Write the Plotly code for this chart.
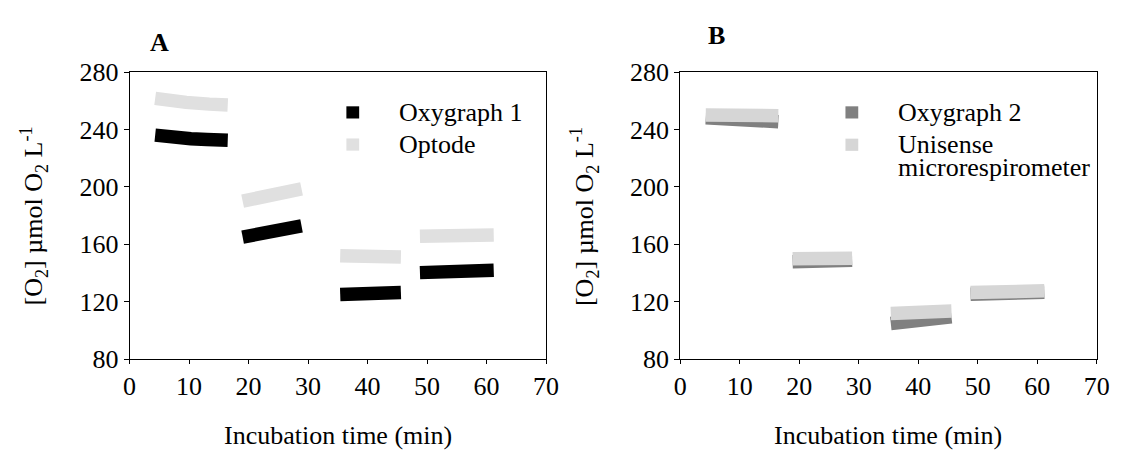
import plotly.graph_objects as go

W, H = 1131, 462
FONT = "Liberation Serif"

# ---- Panel A: Oxygraph 1 vs optode (four incubation steps) ----
a_oxy1_x = [[4.3, 6.2, 8.0, 10.3, 13.0, 16.5], [19.0, 22.7, 26.6, 28.9],
            [35.4, 40.5, 45.6], [48.8, 55.0, 61.2]]
a_oxy1_y = [[236.1, 236.0, 234.9, 233.6, 233.0, 232.5], [165.0, 168.6, 172.2, 172.9],
            [125.0, 125.8, 126.4], [140.3, 141.2, 142.0]]
a_opt_x = [[4.3, 6.2, 9.5, 13.4, 16.5], [19.0, 22.7, 26.6, 28.9],
           [35.4, 40.5, 45.6], [48.8, 55.0, 61.2]]
a_opt_y = [[261.7, 261.4, 258.9, 257.7, 257.1], [190.1, 193.9, 197.8, 198.7],
           [152.1, 151.4, 151.2], [165.6, 166.2, 166.6]]

# ---- Panel B: Oxygraph 2 vs Unisense microrespirometer ----
b_oxy2_x = [[4.3, 9.0, 16.5], [18.9, 28.9],
            [35.4, 42.0, 42.3, 45.6], [48.8, 55.0, 61.2]]
b_oxy2_y = [[248.2, 246.9, 245.4], [147.8, 148.9],
            [104.9, 106.6, 107.7, 109.5], [125.2, 126.0, 126.7]]
b_uni_x = [[4.3, 10.0, 16.5], [18.9, 28.9],
           [35.4, 40.5, 45.6], [48.8, 55.0, 61.2]]
b_uni_y = [[250.1, 250.0, 249.6], [149.9, 150.4],
           [111.9, 112.6, 113.5], [126.4, 127.0, 127.7]]

x_ticks = [0, 10, 20, 30, 40, 50, 60, 70]
y_ticks = [80, 120, 160, 200, 240, 280]

COL_OXY1 = "#000000"
COL_OPT = "#e0e0e0"
COL_OXY2 = "#808080"
COL_UNI = "#d6d6d6"
BAND = 13.5


def joined(xs, ys):
    """Concatenate segments with gaps so each step is a separate band."""
    X, Y = [], []
    for sx, sy in zip(xs, ys):
        X += list(sx) + [None]
        Y += list(sy) + [None]
    return X, Y


def px_x(p):
    return p / W


def px_y(p):
    return 1 - p / H


fig = go.Figure()
for xs, ys, col, ax in [
    (a_oxy1_x, a_oxy1_y, COL_OXY1, ("x", "y")),
    (a_opt_x, a_opt_y, COL_OPT, ("x", "y")),
    (b_oxy2_x, b_oxy2_y, COL_OXY2, ("x2", "y2")),
    (b_uni_x, b_uni_y, COL_UNI, ("x2", "y2")),
]:
    X, Y = joined(xs, ys)
    fig.add_trace(go.Scatter(x=X, y=Y, mode="lines", connectgaps=False,
                             line=dict(color=col, width=BAND),
                             xaxis=ax[0], yaxis=ax[1], showlegend=False,
                             hoverinfo="skip"))

tickfont = dict(family=FONT, size=26, color="black")
axis_common = dict(showgrid=False, zeroline=False, showline=True, linecolor="black",
                   linewidth=1, mirror=True, ticks="outside", tickcolor="black",
                   tickfont=tickfont)

y_dom = [px_y(368.3), px_y(62)]
fig.update_layout(
    width=W, height=H,
    margin=dict(l=0, r=0, t=0, b=0),
    paper_bgcolor="white", plot_bgcolor="white",
    font=dict(family=FONT, color="black"),
    xaxis=dict(domain=[px_x(125.7), px_x(549.3)], range=[0, 70], tickvals=x_ticks,
               ticklen=4, anchor="y", **axis_common),
    yaxis=dict(domain=y_dom, range=[80, 280], tickvals=y_ticks,
               ticklen=5, anchor="x", **axis_common),
    xaxis2=dict(domain=[px_x(685.7), px_x(1109.3)], range=[0, 70], tickvals=x_ticks,
                ticklen=4, anchor="y2", **axis_common),
    yaxis2=dict(domain=y_dom, range=[80, 280], tickvals=y_ticks,
                ticklen=5, anchor="x2", **axis_common),
)

ann = []
txt = dict(family=FONT, size=26, color="black")
ylab = "[O<sub>2</sub>] \u00b5mol O<sub>2</sub> L<sup>-1</sup>"
for (xt_c, y_c, letter, lx, ly) in [
    (337.5, 28.5, "A", 155.8, 30.5),
    (897.5, 588.5, "B", 722.8, 23.3),
]:
    ann.append(dict(text="Incubation time (min)", x=px_x(xt_c), y=px_y(450),
                    xref="paper", yref="paper", showarrow=False,
                    xanchor="center", yanchor="middle", font=txt))
    ann.append(dict(text=ylab, x=px_x(y_c), y=px_y(216), xref="paper", yref="paper",
                    showarrow=False, textangle=-90, xanchor="center",
                    yanchor="middle", font=txt))
    ann.append(dict(text="<b>%s</b>" % letter, x=px_x(lx), y=px_y(ly),
                    xref="paper", yref="paper", showarrow=False,
                    xanchor="center", yanchor="middle", font=txt))

# legends: coloured squares with labels
shapes = []
legend_items = [
    (352.7, 105, COL_OXY1, 397.7, ["Oxygraph 1"]),
    (352.7, 139.3, COL_OPT, 397.7, ["Optode"]),
    (860.3, 105, COL_OXY2, 905, ["Oxygraph 2"]),
    (860.3, 139.5, COL_UNI, 905, ["Unisense", "microrespirometer"]),
]
for cx, cy, col, tx, lines in legend_items:
    s = 6.5
    shapes.append(dict(type="rect", xref="paper", yref="paper",
                       x0=px_x(cx - s), x1=px_x(cx + s),
                       y0=px_y(cy + s), y1=px_y(cy - s),
                       fillcolor=col, line=dict(width=0)))
    for i, line in enumerate(lines):
        ann.append(dict(text=line, x=px_x(tx), y=px_y(cy + i * 24.5), xref="paper",
                        yref="paper", showarrow=False, xanchor="left",
                        yanchor="middle", font=txt))

fig.update_layout(annotations=ann, shapes=shapes)
fig.write_html("out.html")
